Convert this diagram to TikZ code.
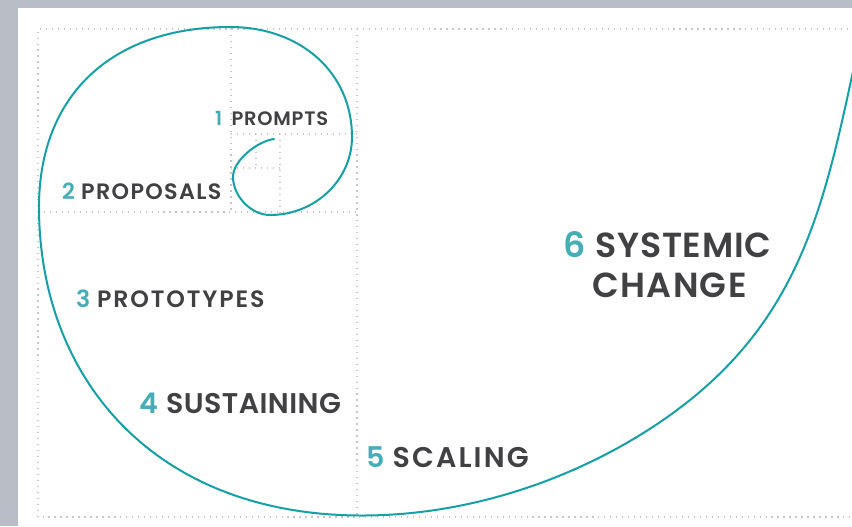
\documentclass[tikz,border=0pt]{standalone}
\usepackage{fontspec}
\setmainfont{Poppins}[BoldFont={Poppins SemiBold}]
\usepackage{tikz}
\definecolor{spiralteal}{HTML}{14A0A6}
\definecolor{numteal}{HTML}{45ADB6}
\definecolor{txtgray}{HTML}{414144}
\definecolor{gridgray}{HTML}{C6C6C8}
\definecolor{framegray}{HTML}{B9BDC6}
\tikzset{
  gridline/.style={gridgray,line width=1.1pt,dash pattern=on 1.1pt off 4pt},
  spiral/.style={spiralteal,line width=1.7pt,line cap=round},
  phase/.style={anchor=base west,inner sep=0pt,text=txtgray},
}
\newcommand{\fibnum}[1]{\textcolor{numteal}{#1}\hspace{0.28em}}
% size in pt, tracking in 1/100 em
\newcommand{\phasefont}[2]{\bfseries\fontsize{#1}{#1}\selectfont\addfontfeature{LetterSpace=#2}}

\begin{document}
\begin{tikzpicture}[x=0.03cm,y=-0.03cm]
  \useasboundingbox (0,0) rectangle (852,526);
  \fill[framegray] (0,0) rectangle (852,526);
  \fill[white] (18,8) rectangle (852,526);
  \clip (18,8) rectangle (852,526);
  % golden rectangle grid
  \draw[gridline] (860,29) -- (38,29) -- (38,517) -- (860,517);
  \draw[gridline] (357,29) -- (357,517);
  \draw[gridline] (38,212) -- (357,212);
  \draw[gridline] (231,29) -- (231,212);
  \draw[gridline] (231,134) -- (357,134);
  \draw[gridline] (280,134) -- (280,212);
  \draw[gridline] (231,168) -- (280,168);
  \draw[gridline] (256,134) -- (256,168);
  % the spiral, quarter by quarter from the centre outwards
  \draw[spiral] (274,139)
    .. controls (258,141) and (233,160) .. (233,177)
    .. controls (233,196) and (251,215) .. (270,215)
    .. controls (315,215) and (352,180) .. (352,137)
    .. controls (352,73) and (301,27) .. (230,27)
    .. controls (112,27) and (39,95) .. (39,207)
    .. controls (39,377) and (153,515.5) .. (362,515.5)
    .. controls (492,515.5) and (612,462.5) .. (690,400)
    .. controls (807,306) and (827.5,190) .. (859,43);
  % phases
  \node[phase,font=\phasefont{16.6}{4}] (prompts) at (215,125) {\fibnum{1}\hspace{0.2em}PROMPTS};
  \node[phase,font=\phasefont{19}{6}] (proposals) at (62,199) {\fibnum{2}PROPOSALS};
  \node[phase,font=\phasefont{20.2}{8}] (prototypes) at (76,307) {\fibnum{3}PROTOTYPES};
  \node[phase,font=\phasefont{24.3}{1.6}] (sustaining) at (139,413) {\fibnum{4}SUSTAINING};
  \node[phase,font=\phasefont{24.3}{7.5}] (scaling) at (366,467) {\fibnum{5}SCALING};
  \node[phase,font=\phasefont{29.7}{2.2}] (systemic) at (563,257) {\fibnum{6}SYSTEMIC};
  \node[phase,font=\phasefont{29.7}{4}] (change) at (592,297) {CHANGE};
\end{tikzpicture}
\end{document}
